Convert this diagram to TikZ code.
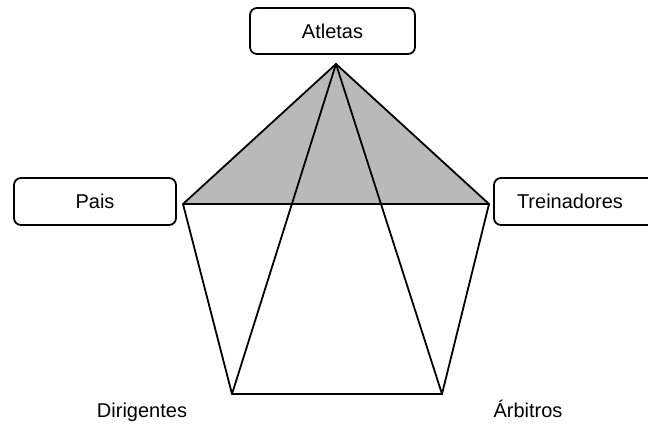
\documentclass[tikz,border=0pt]{standalone}
\usepackage{fontspec}
\setmainfont{Liberation Sans}
\begin{document}
\begin{tikzpicture}[x=1pt,y=-1pt,
  box/.style={draw=black,line width=1.8pt,rounded corners=7pt,fill=white,inner sep=0pt,font=\fontsize{20}{24}\selectfont},
  edge/.style={draw=black,line width=1.8pt,line join=miter},
  lbl/.style={font=\fontsize{20}{24}\selectfont,inner sep=0pt,anchor=base}]
\useasboundingbox (0,0) rectangle (648,426);
\clip (0,0) rectangle (648,426);
\coordinate (T) at (336,64);
\coordinate (L) at (183,204);
\coordinate (R) at (489,204);
\coordinate (BL) at (232,394);
\coordinate (BR) at (442,394);
\fill[gray!55] (T) -- (L) -- (R) -- cycle;
\draw[edge] (T) -- (L) -- (BL) -- (BR) -- (R) -- cycle;
\draw[edge] (L) -- (R);
\draw[edge] (T) -- (BL);
\draw[edge] (T) -- (BR);
\node[box,minimum width=165pt,minimum height=46pt] (atl) at (332.5,31) {Atletas};
\node[box,minimum width=162pt,minimum height=47pt] (pais) at (95,201.5) {Pais};
\node[box,minimum width=162pt,minimum height=47pt,text width=156pt,align=left] (tre) at (575,201.5) {\hspace{20pt}Treinadores};
\node[lbl] (dir) at (142,417.5) {Dirigentes};
\node[lbl] (arb) at (528,417.5) {Árbitros};
\end{tikzpicture}
\end{document}
